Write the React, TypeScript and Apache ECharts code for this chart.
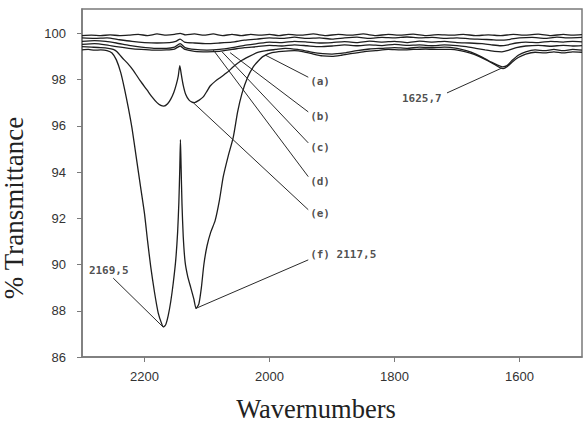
import React, { useEffect, useRef } from "react";
import * as echarts from "echarts";

// Axis ticks
const wavenumberTicks = [2200, 2000, 1800, 1600];
const transmittanceTicks = [86, 88, 90, 92, 94, 96, 98, 100];

// Spectra: [wavenumber, % transmittance]
const curveA: number[][] = [
  [2300, 99.9], [2285, 99.92], [2270, 99.9], [2255, 99.93], [2240, 99.9], [2225, 99.92], [2210, 99.95],
  [2195, 99.9], [2180, 99.97], [2165, 99.92], [2152, 99.95], [2143, 100.0], [2134, 99.93], [2120, 99.97],
  [2105, 99.92], [2090, 99.97], [2075, 99.9], [2060, 99.95], [2045, 99.9], [2030, 99.95], [2015, 99.92],
  [2000, 99.95], [1985, 99.9], [1970, 99.95], [1950, 99.92], [1930, 99.97], [1910, 99.9], [1890, 99.95],
  [1870, 99.92], [1850, 99.97], [1830, 99.9], [1810, 99.95], [1790, 99.92], [1770, 99.96], [1750, 99.9],
  [1730, 99.94], [1710, 99.92], [1690, 99.95], [1670, 99.9], [1650, 99.93], [1630, 99.9], [1610, 99.95],
  [1590, 99.92], [1570, 99.96], [1550, 99.9], [1530, 99.95], [1515, 99.92], [1500, 99.94],
];

const curveB: number[][] = [
  [2300, 99.8], [2280, 99.78], [2260, 99.8], [2240, 99.72], [2220, 99.65], [2200, 99.6], [2180, 99.58],
  [2160, 99.6], [2150, 99.65], [2143, 99.75], [2136, 99.62], [2120, 99.58], [2100, 99.55], [2080, 99.58],
  [2060, 99.62], [2040, 99.7], [2020, 99.75], [2000, 99.8], [1980, 99.78], [1960, 99.83], [1940, 99.78],
  [1920, 99.8], [1900, 99.75], [1880, 99.8], [1860, 99.83], [1840, 99.78], [1820, 99.82], [1800, 99.8],
  [1780, 99.84], [1760, 99.8], [1740, 99.82], [1720, 99.78], [1700, 99.8], [1680, 99.76], [1660, 99.74],
  [1645, 99.72], [1630, 99.7], [1615, 99.74], [1600, 99.8], [1580, 99.82], [1560, 99.78], [1540, 99.83],
  [1520, 99.8], [1500, 99.82],
];

const curveC: number[][] = [
  [2300, 99.65], [2280, 99.68], [2262, 99.65], [2245, 99.58], [2225, 99.48], [2205, 99.4], [2185, 99.35],
  [2165, 99.35], [2152, 99.4], [2143, 99.55], [2135, 99.38], [2120, 99.3], [2100, 99.27], [2080, 99.3],
  [2060, 99.38], [2040, 99.48], [2020, 99.55], [2000, 99.62], [1980, 99.6], [1960, 99.65], [1940, 99.62],
  [1920, 99.58], [1900, 99.6], [1880, 99.64], [1860, 99.6], [1840, 99.66], [1820, 99.62], [1800, 99.65],
  [1780, 99.6], [1760, 99.66], [1740, 99.62], [1720, 99.65], [1700, 99.6], [1680, 99.58], [1660, 99.55],
  [1645, 99.5], [1630, 99.46], [1618, 99.5], [1605, 99.58], [1590, 99.62], [1570, 99.6], [1550, 99.65],
  [1530, 99.62], [1515, 99.65], [1500, 99.63],
];

const curveD: number[][] = [
  [2300, 99.52], [2280, 99.55], [2262, 99.5], [2245, 99.42], [2225, 99.35], [2205, 99.3], [2185, 99.27],
  [2165, 99.28], [2152, 99.32], [2143, 99.45], [2135, 99.3], [2120, 99.22], [2100, 99.2], [2080, 99.22],
  [2060, 99.3], [2040, 99.38], [2020, 99.42], [2000, 99.48], [1980, 99.45], [1960, 99.5], [1940, 99.46],
  [1920, 99.42], [1900, 99.45], [1880, 99.5], [1860, 99.46], [1840, 99.5], [1820, 99.47], [1800, 99.52],
  [1780, 99.48], [1760, 99.5], [1740, 99.46], [1720, 99.5], [1700, 99.47], [1685, 99.42], [1670, 99.35],
  [1655, 99.28], [1640, 99.22], [1628, 99.2], [1618, 99.26], [1605, 99.38], [1590, 99.45], [1570, 99.48],
  [1550, 99.44], [1530, 99.48], [1515, 99.45], [1500, 99.47],
];

const curveE: number[][] = [
  [2300, 99.42], [2285, 99.4], [2270, 99.38], [2258, 99.35], [2250, 99.3], [2244, 99.2], [2236, 98.95],
  [2227, 98.7], [2218, 98.4], [2207, 97.95], [2196, 97.55], [2188, 97.25], [2180, 97.0], [2174, 96.88],
  [2169, 96.85], [2163, 96.95], [2158, 97.15], [2153, 97.45], [2149, 97.8], [2146, 98.15], [2143.5, 98.6],
  [2141, 98.2], [2138, 97.75], [2134, 97.35], [2129, 97.12], [2124, 97.02], [2120, 97.0], [2113, 97.1],
  [2106, 97.25], [2100, 97.5], [2095, 97.72], [2087, 97.92], [2079, 98.08], [2068, 98.3], [2058, 98.55],
  [2046, 98.8], [2034, 98.98], [2020, 99.16], [2005, 99.25], [1990, 99.3], [1975, 99.35], [1955, 99.3],
  [1935, 99.2], [1915, 99.12], [1900, 99.1], [1880, 99.15], [1860, 99.25], [1840, 99.32], [1820, 99.35],
  [1800, 99.38], [1780, 99.35], [1760, 99.4], [1740, 99.38], [1720, 99.4], [1700, 99.35], [1685, 99.25],
  [1670, 99.1], [1655, 98.9], [1645, 98.75], [1635, 98.62], [1627, 98.55], [1620, 98.6], [1612, 98.82],
  [1602, 99.05], [1590, 99.2], [1575, 99.28], [1560, 99.25], [1545, 99.3], [1530, 99.25], [1515, 99.3],
  [1500, 99.27],
];

const curveF: number[][] = [
  [2300, 99.28], [2290, 99.3], [2280, 99.27], [2270, 99.28], [2260, 99.25], [2252, 99.15], [2245, 98.85],
  [2238, 98.3], [2232, 97.6], [2226, 96.8], [2220, 95.9], [2213, 94.6], [2206, 93.3], [2200, 92.2],
  [2195, 91.0], [2190, 89.9], [2184, 88.8], [2178, 87.9], [2172, 87.4], [2169.5, 87.3], [2166, 87.4],
  [2162, 87.8], [2158, 88.4], [2154, 89.2], [2150, 90.2], [2147, 91.4], [2145, 92.7], [2143.5, 94.2],
  [2142.5, 95.4], [2141.5, 94.3], [2140, 92.6], [2138, 91.2], [2135, 90.1], [2131, 89.5], [2126, 89.0],
  [2121, 88.5], [2117.5, 88.1], [2113, 88.3], [2109, 89.0], [2105, 90.0], [2100, 90.8], [2094, 91.4],
  [2087, 91.9], [2080, 92.8], [2074, 93.8], [2066, 94.7], [2058, 95.5], [2051, 96.6], [2044, 97.4],
  [2035, 98.1], [2026, 98.55], [2018, 98.8], [2010, 99.0], [1996, 99.16], [1980, 99.22], [1960, 99.25],
  [1945, 99.2], [1930, 99.1], [1915, 99.02], [1900, 99.0], [1885, 99.05], [1870, 99.12], [1850, 99.2],
  [1830, 99.25], [1810, 99.3], [1790, 99.28], [1770, 99.3], [1750, 99.32], [1730, 99.3], [1710, 99.3],
  [1695, 99.25], [1680, 99.15], [1665, 99.0], [1650, 98.8], [1640, 98.65], [1632, 98.52], [1626, 98.47],
  [1620, 98.55], [1612, 98.75], [1602, 98.95], [1590, 99.1], [1575, 99.18], [1560, 99.15], [1545, 99.2],
  [1530, 99.15], [1515, 99.2], [1500, 99.18],
];

// Leader lines: [from wavenumber, from %T, to wavenumber, to %T]
const leaderLines: number[][] = [
  [2007, 99.06, 1938, 98.1],
  [2063, 99.16, 1938, 96.6],
  [2076, 99.2, 1938, 95.26],
  [2090, 99.28, 1938, 93.8],
  [2122, 97.0, 1938, 92.37],
  [2118, 88.1, 1938, 90.2],
  [2250, 89.41, 2170, 87.29],
  [1716, 97.42, 1628, 98.5],
];

// Annotation labels (left edge anchor)
const labelTexts = ["(a)", "(b)", "(c)", "(d)", "(e)", "(f) 2117,5", "2169,5", "1625,7"];
const labelAnchors: number[][] = [
  [1935, 97.9], [1935, 96.39], [1935, 95.05], [1935, 93.58], [1935, 92.19], [1935, 90.42],
  [2289, 89.72], [1788, 97.17],
];

const curveNames = ["a", "b", "c", "d", "e", "f"];
const curves = [curveA, curveB, curveC, curveD, curveE, curveF];

export default function App() {
  const ref = useRef<HTMLDivElement>(null);
  useEffect(() => {
    if (!ref.current) return;
    const chart = echarts.init(ref.current, null, { renderer: "svg" });
    const axisGrey = "#7a7a7a";
    const lineSeries = curves.map((c, i) => ({
      name: curveNames[i],
      type: "line",
      data: c,
      showSymbol: false,
      symbol: "none",
      smooth: 0.2,
      lineStyle: { color: "#1e1e1e", width: 1.3 },
      z: 3,
    }));
    chart.setOption({
      animation: false,
      backgroundColor: "#ffffff",
      grid: {
        left: 82,
        right: 1,
        top: 9,
        bottom: 66,
        show: true,
        borderColor: axisGrey,
        borderWidth: 1.5,
      },
      xAxis: {
        type: "value",
        min: 1500,
        max: 2300,
        inverse: true,
        axisLine: { show: true, lineStyle: { color: axisGrey, width: 1.5 } },
        axisTick: { show: true, length: 5, customValues: wavenumberTicks, lineStyle: { color: axisGrey } },
        axisLabel: {
          customValues: wavenumberTicks,
          formatter: (v: number) => String(v),
          margin: 13,
          fontSize: 13,
          color: "#333",
          fontFamily: "Liberation Sans, Arial, sans-serif",
        },
        splitLine: { show: false },
      },
      yAxis: {
        type: "value",
        min: 86,
        max: 101.05,
        axisLine: { show: true, lineStyle: { color: axisGrey, width: 1.5 } },
        axisTick: { show: true, length: 5, customValues: transmittanceTicks, lineStyle: { color: axisGrey } },
        axisLabel: {
          customValues: transmittanceTicks,
          formatter: (v: number) => String(v),
          margin: 16,
          fontSize: 13,
          color: "#333",
          fontFamily: "Liberation Sans, Arial, sans-serif",
        },
        splitLine: { show: false },
      },
      series: [
        ...lineSeries,
        {
          name: "leaders",
          type: "lines",
          coordinateSystem: "cartesian2d",
          silent: true,
          lineStyle: { color: "#2a2a2a", width: 1, opacity: 1 },
          data: leaderLines.map((l) => ({ coords: [[l[0], l[1]], [l[2], l[3]]] })),
          z: 4,
        },
        {
          name: "labels",
          type: "scatter",
          symbolSize: 0,
          silent: true,
          data: labelTexts.map((t, i) => ({ name: t, value: labelAnchors[i] })),
          label: {
            show: true,
            position: "right",
            distance: 0,
            formatter: "{b}",
            fontFamily: "DejaVu Sans Mono, monospace",
            fontWeight: "bold",
            fontSize: 11,
            color: "#222",
          },
          z: 5,
        },
      ],
      graphic: [
        {
          type: "text",
          x: 14,
          y: 208,
          rotation: Math.PI / 2,
          style: {
            text: "% Transmittance",
            fontFamily: "Liberation Serif, Times New Roman, serif",
            fontSize: 27,
            lineHeight: 26,
            fill: "#222",
            textAlign: "center",
            textVerticalAlign: "middle",
          },
        },
        {
          type: "text",
          x: 316,
          y: 409,
          style: {
            text: "Wavernumbers",
            fontFamily: "Liberation Serif, Times New Roman, serif",
            fontSize: 26.5,
            lineHeight: 24,
            fill: "#222",
            textAlign: "center",
            textVerticalAlign: "middle",
          },
        },
      ],
    });
    return () => chart.dispose();
  }, []);
  return (
    <div
      ref={ref}
      style={{ position: "fixed", left: 0, top: 0, width: 583, height: 423, background: "#fff" }}
    />
  );
}
